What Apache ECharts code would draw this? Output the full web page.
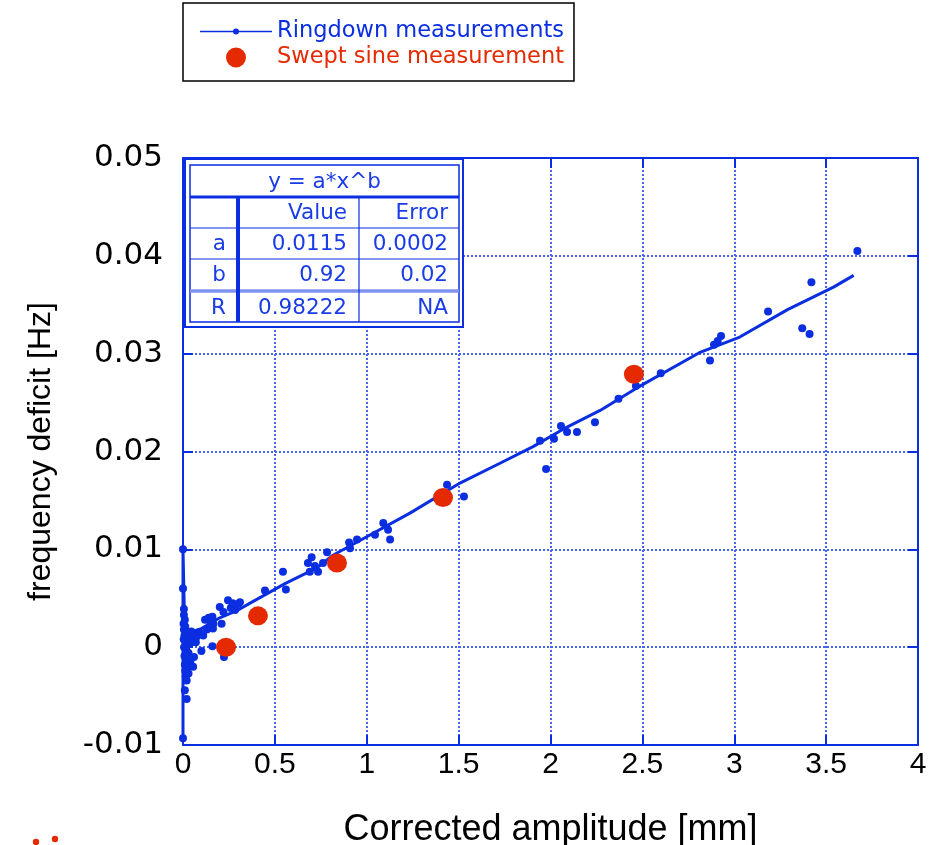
<!DOCTYPE html>
<html>
<head>
<meta charset="utf-8">
<script src="https://cdn.jsdelivr.net/npm/echarts@6/dist/echarts.min.js"></script>
<style>html,body{margin:0;padding:0;background:#fff}#c{width:944px;height:845px}</style>
</head>
<body>
<div id="c"></div>
<script>
// ---- data ----
const xTicks = [0, 0.5, 1, 1.5, 2, 2.5, 3, 3.5, 4];
const yTicks = [-0.01, 0, 0.01, 0.02, 0.03, 0.04, 0.05];

// Ringdown measurements: smoothed trace (line)
const ringdownLine = [
  [0,-0.0097],[0,0.0100],[0.01,0.0012],[0.05,0.0016],[0.1,0.0019],[0.2,0.0030],[0.29,0.0037],
  [0.365,0.0045],[0.47,0.0056],[0.555,0.0065],[0.729,0.0081],[0.816,0.0094],[0.963,0.0109],
  [1.235,0.0137],[1.51,0.0168],[1.725,0.0188],[1.905,0.0205],[2.09,0.0225],[2.27,0.0242],
  [2.47,0.0265],[2.81,0.0301],[3.03,0.0317],[3.29,0.0345],[3.54,0.0368],[3.65,0.0380]
];
// Ringdown measurements: individual points
const ringdownPoints = [
  [0,0.0100],[0,0.0060],[0.005,0.0039],[0.005,0.0033],[0.01,0.0028],[0.003,0.0024],[0.012,0.0021],
  [0.005,0.0018],[0.02,0.0015],[0.008,0.0012],[0.03,0.0010],[0.004,0.0008],[0.015,0.0005],
  [0.025,0.0003],[0.006,0.0000],[0.018,-0.0003],[0.03,-0.0006],[0.008,-0.0009],[0.02,-0.0012],
  [0.04,-0.0015],[0.01,-0.0018],[0.025,-0.0021],[0.012,-0.0024],[0.03,-0.0027],[0.015,-0.0030],
  [0.02,-0.0034],[0.01,-0.0044],[0.02,-0.0053],[0,-0.0093],
  [0.035,0.0012],[0.05,0.0009],[0.045,0.0016],[0.06,0.0013],[0.075,0.0011],[0.09,0.0015],
  [0.11,0.0012],[0.06,-0.0010],[0.1,-0.0004],[0.055,-0.0020],[0.04,0.0004],[0.07,0.0005],
  [0.13,0.0018],[0.12,0.0028],[0.14,0.0030],[0.15,0.0026],[0.16,0.0031],[0.165,0.0024],
  [0.15,0.0020],[0.163,0.0019],[0.21,0.0024],[0.16,0.0001],[0.223,-0.0010],
  [0.2,0.0041],[0.22,0.0036],[0.245,0.0048],[0.26,0.0040],[0.283,0.0038],[0.3,0.0044],
  [0.31,0.0046],[0.27,0.0045],
  [0.446,0.0058],[0.544,0.0077],[0.56,0.0059],[0.68,0.0086],[0.70,0.0092],[0.718,0.0083],
  [0.69,0.0077],[0.735,0.0077],[0.762,0.0086],[0.784,0.0097],[0.904,0.0107],[0.909,0.0101],
  [0.947,0.0110],[1.045,0.0115],[1.09,0.0127],[1.116,0.0120],[1.127,0.0110],
  [1.437,0.0166],[1.529,0.0154],[1.943,0.0211],[1.976,0.0182],[2.019,0.0213],[2.057,0.0226],
  [2.09,0.0220],[2.144,0.0220],[2.242,0.0230],[2.37,0.0254],[2.465,0.0267],[2.6,0.0280],
  [2.868,0.0293],[2.89,0.0309],[2.91,0.0313],[2.928,0.0318],[3.184,0.0343],[3.37,0.0326],
  [3.41,0.0320],[3.42,0.0373],[3.67,0.0405]
];
// Swept sine measurement
const sweptSine = [[0.234,0.0000],[0.408,0.0032],[0.838,0.0086],[1.415,0.0153],[2.454,0.0279]];

// Fit table
const fitTitle = 'y = a*x^b';
const fitHeader = ['', 'Value', 'Error'];
const fitRows = [['a','0.0115','0.0002'],['b','0.92','0.02'],['R','0.98222','NA']];

// ---- style ----
const BLUE = '#0a2ee0';
const GRIDC = '#4864ee';
const TBLUE = '#1a3ce6';
const RED = '#e52a00';

const chart = echarts.init(document.getElementById('c'), null, {renderer:'canvas'});

function yLabel(v){
  const r = Math.round(v*1000)/1000;
  const hit = yTicks.find(t => Math.abs(t - r) < 1e-6);
  if (hit === undefined) return '';
  if (hit === 0) return '0';
  return String(hit);
}
function xLabel(v){
  const hit = xTicks.find(t => Math.abs(t - v) < 1e-6);
  return hit === undefined ? '' : String(hit);
}

// table graphics
const T = {x0:185, y0:159, x1:463, y1:327, ix0:190, iy0:165, ix1:459, iy1:322};
const rowY = [197, 228, 259, 291];
const colX = [238, 359];
const g = [];
g.push({type:'rect', z:100, shape:{x:T.x0, y:T.y0, width:T.x1-T.x0, height:T.y1-T.y0},
  style:{fill:'#fff', stroke:BLUE, lineWidth:2}});
g.push({type:'rect', z:101, shape:{x:T.ix0, y:T.iy0, width:T.ix1-T.ix0, height:T.iy1-T.iy0},
  style:{fill:'none', stroke:BLUE, lineWidth:1.5}});
g.push({type:'line', z:101, shape:{x1:T.ix0, y1:rowY[0], x2:T.ix1, y2:rowY[0]}, style:{stroke:BLUE, lineWidth:3}});
g.push({type:'line', z:101, shape:{x1:T.ix0, y1:rowY[1], x2:T.ix1, y2:rowY[1]}, style:{stroke:BLUE, lineWidth:1.2}});
g.push({type:'line', z:101, shape:{x1:T.ix0, y1:rowY[2], x2:T.ix1, y2:rowY[2]}, style:{stroke:BLUE, lineWidth:1.2}});
g.push({type:'line', z:101, shape:{x1:T.ix0, y1:rowY[3], x2:T.ix1, y2:rowY[3]}, style:{stroke:'#7f92f0', lineWidth:3.5}});
g.push({type:'line', z:101, shape:{x1:colX[0], y1:rowY[0], x2:colX[0], y2:T.iy1}, style:{stroke:BLUE, lineWidth:4}});
g.push({type:'line', z:101, shape:{x1:colX[1], y1:rowY[0], x2:colX[1], y2:T.iy1}, style:{stroke:BLUE, lineWidth:1.2}});
const TF = '21.5px "DejaVu Sans", sans-serif';
g.push({type:'text', z:102, style:{text:fitTitle, x:(T.ix0+T.ix1)/2, y:(T.iy0+rowY[0])/2+1, align:'center', verticalAlign:'middle', font:TF, fill:TBLUE}});
const rowCenters = [213, 244, 275, 308];
const colRight = [226, 347, 448];
const allRows = [fitHeader].concat(fitRows);
allRows.forEach((row, ri) => {
  row.forEach((txt, ci) => {
    if (!txt) return;
    g.push({type:'text', z:102, style:{text:txt, x:colRight[ci], y:rowCenters[ri], align:'right', verticalAlign:'middle', font:TF, fill:TBLUE}});
  });
});
// stray red marks at the bottom-left of the figure
g.push({type:'circle', z:100, shape:{cx:36, cy:842, r:3.2}, style:{fill:RED}});
g.push({type:'circle', z:100, shape:{cx:55, cy:839, r:3.2}, style:{fill:RED}});

const axisLineStyle = {color:BLUE, width:2};
const tickStyle = {show:true, inside:true, length:10, lineStyle:{color:BLUE, width:2}};

const option = {
  backgroundColor:'#fff',
  animation:false,
  grid:{left:183, right:26, top:158, bottom:100, containLabel:false, outerBoundsMode:'none'},
  legend:{
    orient:'vertical', left:183, top:3,
    padding:[17, 10, 12, 17], itemGap:3, itemWidth:72, itemHeight:20,
    borderColor:'#000', borderWidth:1.5, backgroundColor:'#fff',
    selectedMode:false,
    textStyle:{fontFamily:'"DejaVu Sans", sans-serif', fontSize:22.5, padding:[0,0,0,0]},
    data:[
      {name:'Ringdown measurements', icon:'path://M0,2.2 L72,2.2 L72,3.8 L0,3.8 Z M33,3 A3,3 0 1 1 39,3 A3,3 0 1 1 33,3 Z',
        itemStyle:{color:BLUE}, textStyle:{color:BLUE}},
      {name:'Swept sine measurement', icon:'circle', itemStyle:{color:RED}, textStyle:{color:RED}}
    ]
  },
  xAxis:[{
    type:'value', min:0, max:4, interval:0.5, position:'bottom',
    name:'Corrected amplitude [mm]', nameLocation:'middle', nameGap:67,
    nameTextStyle:{fontFamily:'"Liberation Sans", Arial, sans-serif', fontSize:36, color:'#000'},
    axisLine:{show:true, onZero:false, lineStyle:axisLineStyle},
    axisTick:tickStyle,
    axisLabel:{formatter:xLabel, margin:5, color:'#000', fontSize:30,
      fontFamily:'"Liberation Sans", Arial, sans-serif'},
    splitLine:{show:true, lineStyle:{color:GRIDC, width:2, type:[2,2]}}
  },{
    type:'value', min:0, max:4, interval:0.5, position:'top',
    axisLine:{show:true, onZero:false, lineStyle:axisLineStyle},
    axisTick:tickStyle, axisLabel:{show:false}, splitLine:{show:false}
  }],
  yAxis:[{
    type:'value', min:-0.01, max:0.05, interval:0.01, position:'left',
    name:'frequency deficit [Hz]', nameLocation:'middle', nameGap:126,
    nameTextStyle:{fontFamily:'"Liberation Sans", Arial, sans-serif', fontSize:32, color:'#000'},
    axisLine:{show:true, onZero:false, lineStyle:axisLineStyle},
    axisTick:tickStyle,
    axisLabel:{formatter:yLabel, margin:20, color:'#000', fontSize:31,
      fontFamily:'"DejaVu Sans", sans-serif'},
    splitLine:{show:true, lineStyle:{color:GRIDC, width:2, type:[2,2]}}
  },{
    type:'value', min:-0.01, max:0.05, interval:0.01, position:'right',
    axisLine:{show:true, onZero:false, lineStyle:axisLineStyle},
    axisTick:tickStyle, axisLabel:{show:false}, splitLine:{show:false}
  }],
  series:[
    {name:'Ringdown measurements', type:'line', data:ringdownLine, showSymbol:false, symbol:'none',
      lineStyle:{color:BLUE, width:3}, itemStyle:{color:BLUE}, z:3},
    {name:'Ringdown measurements', type:'scatter', data:ringdownPoints, symbolSize:8,
      itemStyle:{color:BLUE, opacity:1}, z:4},
    {name:'Swept sine measurement', type:'scatter', data:sweptSine, symbolSize:[20,19],
      itemStyle:{color:RED, opacity:1}, z:5}
  ],
  graphic:g
};
chart.setOption(option);
</script>
</body>
</html>
